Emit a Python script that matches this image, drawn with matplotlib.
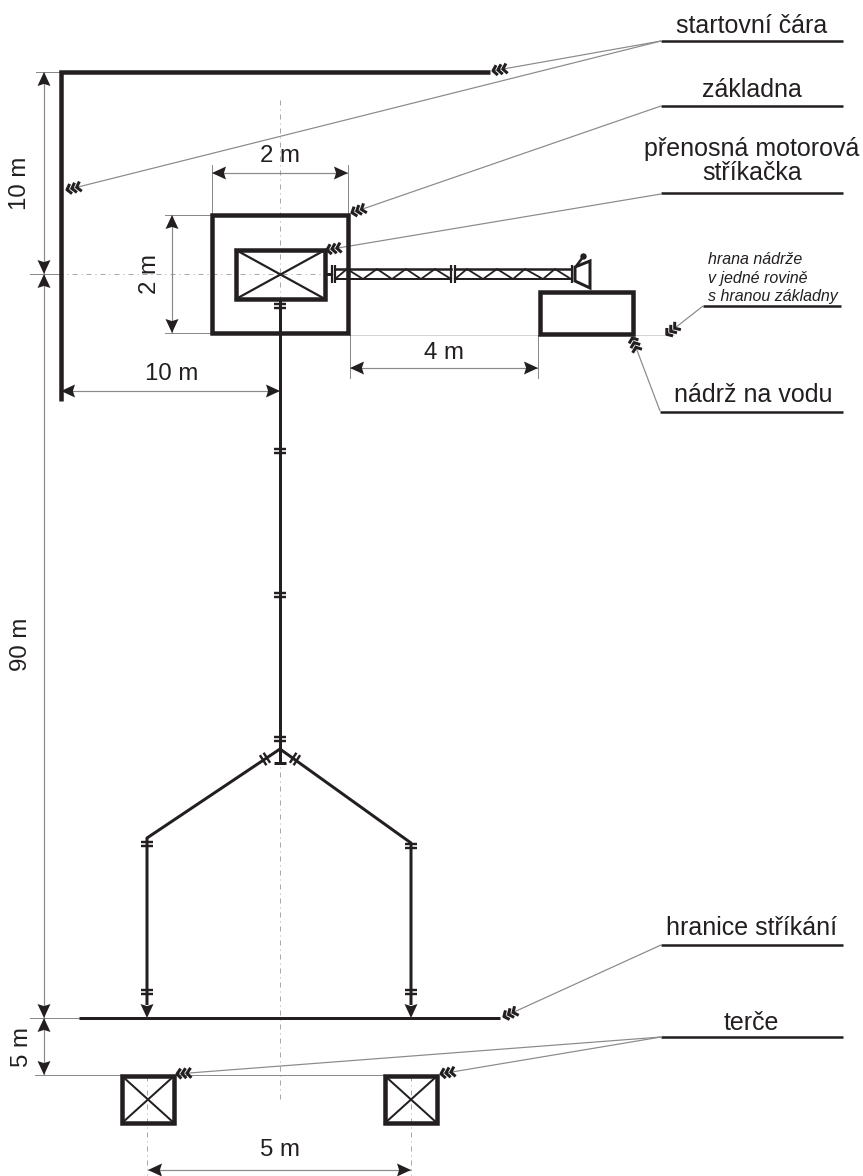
import numpy as np
import matplotlib
matplotlib.use("Agg")
import matplotlib.pyplot as plt
from matplotlib.patches import Polygon, Rectangle

plt.rcParams['font.family'] = ['Liberation Sans', 'DejaVu Sans']

W, H = 863, 1176
DARK = '#231f20'
GREY = '#8a8a8a'
LIGHT = '#a8a8a8'

# start line and boundary (x, y in picture pixels)
start_line_x = [490, 61, 61]
start_line_y = [72, 72, 401]
limit_line_x = [79, 500]
limit_line_y = [1018, 1018]

# rectangles: x, y, width, height
base_box = (212, 215, 136, 118)
pump_box = (236, 250, 89, 49)
tank_box = (540, 292, 93, 42)
target_boxes = [(122, 1076, 52, 47), (385, 1076, 52, 47)]

# hose lines
hose_main_x = [280, 280]
hose_main_y = [299, 749]
hose_left_x = [280, 147, 147]
hose_left_y = [749, 838, 1005]
hose_right_x = [280, 411, 411]
hose_right_y = [749, 843, 1005]
hose_stub_x = [280, 280]
hose_stub_y = [749, 763]
hose_stub_bar_x = [274, 286]
hose_stub_bar_y = [763, 763]

# horizontal couplings on vertical hoses (x, y)
couplings_x = [280, 280, 280, 280, 147, 411, 147, 411]
couplings_y = [306, 451, 595, 739, 844, 846, 992, 992]

# couplings on the two branches of the divider (x, y, angle)
branch_couplings = [(265, 759, -33), (295, 759, 33)]

# suction hose
truss_top_y = 269
truss_bot_y = 279
truss_x = [335, 451, 455, 571]
zigzag_x = [335, 347, 363, 377, 392, 406, 421, 435, 451]
zigzag2_x = [455, 467, 483, 497, 513, 525, 543, 555, 571]
strainer_x = [575, 590, 590, 575]
strainer_y = [267, 261, 288, 281]

# centre lines
centre_lines = [
    ([30, 335], [274, 274]),
    ([280, 280], [100, 1100]),
    ([147, 147], [1076, 1175]),
    ([411, 411], [1076, 1175]),
]
dotted_lines = [([349, 540], [335, 335]), ([633, 675], [335, 335])]

# extension lines of dimensions
extension_lines = [
    ([36, 60], [72, 72]), ([30, 60], [274, 274]), ([30, 79], [1018, 1018]),
    ([35, 385], [1075, 1075]), ([212, 212], [165, 215]), ([348, 348], [165, 215]),
    ([165, 212], [215, 215]), ([165, 212], [333, 333]), ([350, 350], [335, 378]),
    ([538, 538], [335, 378]),
]

# dimensions: x0, y0, x1, y1, label, label x, label y, rotation
dimensions = [
    (44, 72, 44, 274, '10 m', 20, 183, 90),
    (44, 274, 44, 1018, '90 m', 21, 644, 90),
    (44, 1018, 44, 1075, '5 m', 22, 1047, 90),
    (212, 173, 348, 173, '2 m', 280, 156, 0),
    (172, 215, 172, 333, '2 m', 150, 274, 90),
    (61, 391, 280, 391, '10 m', 172, 374, 0),
    (350, 368, 538, 368, '4 m', 444, 353, 0),
    (148, 1170, 411, 1170, '5 m', 280, 1150, 0),
]

# labels with their underlines
labels = ['startovní čára', 'základna', 'přenosná motorová', 'stříkačka',
          'nádrž na vodu', 'hranice stříkání', 'terče']
labels_x = [752, 752, 752, 752, 753, 751, 751]
labels_y = [26, 90, 149, 173, 395, 928, 1023]
underlines_x = [661, 661, 661, 660, 661, 661]
underlines_x2 = [843, 843, 843, 843, 843, 843]
underlines_y = [41, 106, 193, 412, 945, 1037]

note_lines = ['hrana nádrže', 'v jedné rovině', 's hranou základny']
note_y = [259, 278, 297]
note_line_x = [703, 841]
note_line_y = [306, 306]

# leaders: from underline to feathered tip
leaders = [
    (661, 41, 492, 71), (661, 41, 66, 190), (661, 106, 351, 213),
    (661, 194, 326, 250), (703, 306, 666, 335), (660, 411, 632, 337),
    (661, 945, 503, 1017), (661, 1037, 176, 1074), (661, 1037, 440, 1074),
]


def px(n):
    return n * 72 / 100


def arrow_head(ax, x, y, dx, dy, size=14, half=6.5):
    pts = [(x, y),
           (x - dx * size - dy * half, y - dy * size + dx * half),
           (x - dx * size * 0.85, y - dy * size * 0.85),
           (x - dx * size + dy * half, y - dy * size - dx * half)]
    ax.add_patch(Polygon(pts, closed=True, fc=DARK, ec='none', zorder=4))


def dim_line(ax, x0, y0, x1, y1):
    ax.plot([x0, x1], [y0, y1], color=GREY, lw=px(1.2), solid_capstyle='butt')
    length = np.hypot(x1 - x0, y1 - y0)
    dx, dy = (x1 - x0) / length, (y1 - y0) / length
    arrow_head(ax, x0, y0, -dx, -dy)
    arrow_head(ax, x1, y1, dx, dy)


def feather(ax, x0, y0, x1, y1):
    # three small chevrons at the end of a leader
    ax.plot([x0, x1], [y0, y1], color=GREY, lw=px(1.2), solid_capstyle='butt', zorder=2)
    length = np.hypot(x1 - x0, y1 - y0)
    dx, dy = (x0 - x1) / length, (y0 - y1) / length
    for k in (1, 6, 11):
        tx, ty = x1 + dx * k, y1 + dy * k
        ax.plot([tx + dx * 4 - dy * 5, tx, tx + dx * 4 + dy * 5],
                [ty + dy * 4 + dx * 5, ty, ty + dy * 4 - dx * 5],
                color=DARK, lw=px(3), solid_capstyle='butt', zorder=4)


def coupling(ax, x, y, angle=0, half=6):
    a = np.radians(angle)
    ux, uy = np.cos(a), np.sin(a)
    nx, ny = -uy, ux
    for off in (-2.2, 2.2):
        ax.plot([x - ux * half + nx * off, x + ux * half + nx * off],
                [y - uy * half + ny * off, y + uy * half + ny * off],
                color=DARK, lw=px(2.4), solid_capstyle='butt', zorder=4)


fig = plt.figure(figsize=(W / 100, H / 100), dpi=100)
ax = fig.add_axes([0, 0, 1, 1])
ax.set_xlim(0, W)
ax.set_ylim(H, 0)
ax.axis('off')

# centre lines first so everything sits on top
for xs, ys in centre_lines:
    ax.plot(xs, ys, color=LIGHT, lw=px(1), ls=(0, (5, 4, 1, 4)), zorder=1)
for xs, ys in dotted_lines:
    ax.plot(xs, ys, color=LIGHT, lw=px(1), ls=(0, (1, 1)), zorder=1)
for xs, ys in extension_lines:
    ax.plot(xs, ys, color=GREY, lw=px(1), zorder=1)

ax.plot(start_line_x, start_line_y, color=DARK, lw=px(4.5), solid_joinstyle='miter',
        solid_capstyle='butt', zorder=3)
ax.plot(limit_line_x, limit_line_y, color=DARK, lw=px(3), solid_capstyle='butt', zorder=3)

for box, lw in [(base_box, 4.5), (pump_box, 4.5), (tank_box, 4.5)]:
    ax.add_patch(Rectangle(box[:2], box[2], box[3], fc='none', ec=DARK, lw=px(lw),
                           joinstyle='miter', zorder=3))
# pump cross
ax.plot([pump_box[0], pump_box[0] + pump_box[2]], [pump_box[1], pump_box[1] + pump_box[3]],
        color=DARK, lw=px(2.2), zorder=3)
ax.plot([pump_box[0], pump_box[0] + pump_box[2]], [pump_box[1] + pump_box[3], pump_box[1]],
        color=DARK, lw=px(2.2), zorder=3)

for box in target_boxes:
    ax.add_patch(Rectangle(box[:2], box[2], box[3], fc='none', ec=DARK, lw=px(4.5),
                           joinstyle='miter', zorder=3))
    ax.plot([box[0], box[0] + box[2]], [box[1], box[1] + box[3]], color=DARK, lw=px(2), zorder=3)
    ax.plot([box[0], box[0] + box[2]], [box[1] + box[3], box[1]], color=DARK, lw=px(2), zorder=3)

# hoses
for xs, ys in [(hose_main_x, hose_main_y), (hose_left_x, hose_left_y),
               (hose_right_x, hose_right_y), (hose_stub_x, hose_stub_y),
               (hose_stub_bar_x, hose_stub_bar_y)]:
    ax.plot(xs, ys, color=DARK, lw=px(3), solid_capstyle='butt', zorder=3)
for x, y in zip(couplings_x, couplings_y):
    coupling(ax, x, y)
for x, y, ang in branch_couplings:
    coupling(ax, x, y, ang + 90)
arrow_head(ax, hose_left_x[-1], 1018, 0, 1)
arrow_head(ax, hose_right_x[-1], 1018, 0, 1)

# suction hose
ax.plot([325, 331], [274, 274], color=DARK, lw=px(3), zorder=3)
for i in (0, 2):
    ax.plot(truss_x[i:i + 2], [truss_top_y] * 2, color=DARK, lw=px(2.5), zorder=3)
    ax.plot(truss_x[i:i + 2], [truss_bot_y] * 2, color=DARK, lw=px(2), zorder=3)
for zx in (zigzag_x, zigzag2_x):
    zy = [truss_bot_y if k % 2 == 0 else truss_top_y for k in range(len(zx))]
    ax.plot(zx, zy, color=DARK, lw=px(1.8), zorder=3)
for x in (332, 335, 451, 455, 572):
    ax.plot([x, x], [265, 283], color=DARK, lw=px(2.2), solid_capstyle='butt', zorder=3)
ax.add_patch(Polygon(list(zip(strainer_x, strainer_y)), closed=True, fc='white', ec=DARK,
                     lw=px(3), zorder=3))
ax.plot([577, 583], [265, 257], color=DARK, lw=px(2.5), zorder=3)
ax.plot([583], [256], 'o', color=DARK, ms=px(5), zorder=3)

# dimensions
for x0, y0, x1, y1, txt, tx, ty, rot in dimensions:
    dim_line(ax, x0, y0, x1, y1)
    ax.text(tx, ty, txt, rotation=rot, ha='center', va='center', fontsize=px(24), color=DARK)

# labels
for txt, x, y in zip(labels, labels_x, labels_y):
    ax.text(x, y, txt, ha='center', va='center', fontsize=px(25), color=DARK)
for x0, x1, y in zip(underlines_x, underlines_x2, underlines_y):
    ax.plot([x0, x1], [y, y], color=DARK, lw=px(2.5), solid_capstyle='butt', zorder=3)

for txt, y in zip(note_lines, note_y):
    ax.text(708, y, txt, ha='left', va='center', fontsize=px(16), style='italic', color=DARK)
ax.plot(note_line_x, note_line_y, color=DARK, lw=px(2.5), solid_capstyle='butt', zorder=3)

for x0, y0, x1, y1 in leaders:
    feather(ax, x0, y0, x1, y1)

fig.savefig('out.png', dpi=100, facecolor='white')
